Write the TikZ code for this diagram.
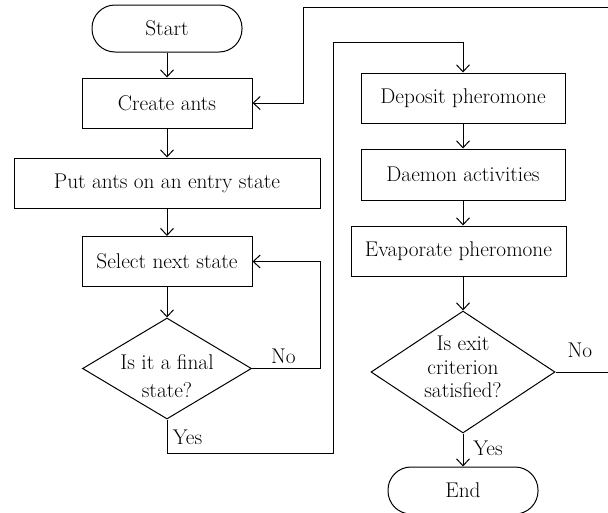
\documentclass[tikz,border=0pt]{standalone}
\usetikzlibrary{arrows.meta,shapes.geometric}
\begin{document}
\begin{tikzpicture}[x=1pt,y=-1pt,
  lw/.style={line width=1pt},
  txt/.style={font=\fontsize{21.3}{25}\selectfont},
  box/.style={draw, lw, inner sep=0pt, txt},
  term/.style={draw, lw, inner sep=0pt, rounded corners=23pt, txt},
  dia/.style={draw, lw, diamond, inner sep=0pt},
  arr/.style={lw, -{Straight Barb[length=7pt,width=13pt,line width=1pt]}},
  ln/.style={lw}]
\useasboundingbox (0,0) rectangle (608,512);

\node[term, minimum width=150pt, minimum height=47pt] (start) at (167,28.5) {Start};
\node[box, minimum width=170pt, minimum height=50pt] (create) at (167,103) {Create ants};
\node[box, minimum width=306pt, minimum height=50pt] (put) at (167,183) {Put ants on an entry state};
\node[box, minimum width=170pt, minimum height=50pt] (select) at (167,261.5) {Select next state};
\node[dia, minimum width=169pt, minimum height=101pt] (d1) at (167,368.5) {};
\node[txt, align=center, font=\fontsize{21.3}{27.7}\selectfont] (d1t) at (167,376) {Is it a final\\state?};

\node[box, minimum width=204pt, minimum height=50pt] (dep) at (463,98) {Deposit pheromone};
\node[box, minimum width=204pt, minimum height=51pt] (dae) at (463,174.5) {Daemon activities};
\node[box, minimum width=215pt, minimum height=50pt] (eva) at (458.5,251) {Evaporate pheromone};
\node[dia, minimum width=184pt, minimum height=122pt] (d2) at (463,372) {};
\node[txt, align=center, font=\fontsize{21.3}{23.5}\selectfont] (d2t) at (463,367) {Is exit\\criterion\\satisfied?};
\node[term, minimum width=150pt, minimum height=47pt] (end) at (463,490.5) {End};

\node[txt] (no1) at (283.5,356) {No};
\node[txt] (yes1) at (187.5,437) {Yes};
\node[txt] (no2) at (580,350) {No};
\node[txt] (yes2) at (488,448) {Yes};

\draw[arr] (start.south) -- (create.north);
\draw[arr] (create.south) -- (put.north);
\draw[arr] (put.south) -- (select.north);
\draw[arr] (select.south) -- (d1.north);
\draw[arr] (d1.east) -- ++(68,0) |- (select.east);
\draw[arr] (d1.south) -- ++(0,33.5) -| (333,42) -| (dep.north);
\draw[arr] (dep.south) -- (dae.north);
\draw[arr] (dae.south) -- (dae.south |- eva.north);
\draw[arr] (d2.north |- eva.south) -- (d2.north);
\draw[arr] (d2.south) -- (end.north);
\draw[arr] (d2.east) -- (611,372) |- (303,7) |- (create.east);
\end{tikzpicture}
\end{document}
